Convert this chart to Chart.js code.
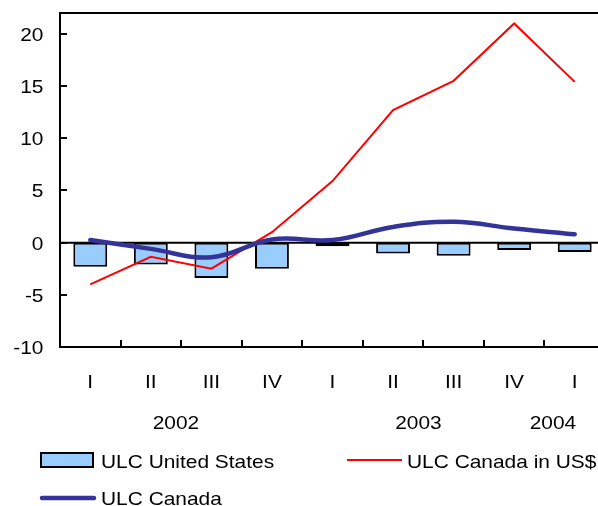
<!DOCTYPE html>
<html>
<head>
<meta charset="utf-8">
<script src="https://cdn.jsdelivr.net/npm/chart.js@4"></script>
<style>
  html, body { margin: 0; padding: 0; background: #fff; overflow: hidden; }
  canvas { display: block; }
</style>
</head>
<body>
<canvas id="ulcChart" width="610" height="506"></canvas>
<script>
// quarters 2002 I .. 2004 I
const quarters = ['I', 'II', 'III', 'IV', 'I', 'II', 'III', 'IV', 'I'];
const years = ['2002', '2003', '2004'];
const ulcUS = [-2.3, -2.1, -3.4, -2.5, -0.35, -1.05, -1.25, -0.7, -0.9];
const ulcCanadaUSD = [-4.0, -1.35, -2.5, 1.0, 5.9, 12.7, 15.5, 21.0, 15.4];
const ulcCanada = [0.25, -0.6, -1.4, 0.3, 0.25, 1.5, 2.0, 1.35, 0.8];
const yTicks = [-10, -5, 0, 5, 10, 15, 20];

const FONT = '18.5px "Liberation Sans", Arial, sans-serif';
const yearSlots = [1.415, 5.42, 7.64]; // where the year labels sit (category index)

// text in the original is a bit wider than plain Arial
function wideText(ctx, txt, x, y, align) {
  ctx.save();
  ctx.translate(x, y);
  ctx.scale(1.13, 1);
  ctx.textAlign = align;
  ctx.textBaseline = 'alphabetic';
  ctx.fillText(txt, 0, 0);
  ctx.restore();
}

const extras = {
  id: 'extras',
  beforeDatasetsDraw(chart) {
    const ctx = chart.ctx;
    const a = chart.chartArea;
    const y0 = chart.scales.y.getPixelForValue(0);
    ctx.save();
    ctx.strokeStyle = '#000';
    ctx.lineWidth = 2;
    ctx.beginPath();
    ctx.moveTo(a.left, y0);
    ctx.lineTo(a.right, y0);
    ctx.stroke();
    ctx.restore();
  },
  afterDraw(chart) {
    const ctx = chart.ctx;
    const a = chart.chartArea;
    const x = chart.scales.x;
    const y = chart.scales.y;
    ctx.save();
    ctx.strokeStyle = '#000';
    ctx.lineWidth = 2;
    // frame top / right
    ctx.beginPath();
    ctx.moveTo(a.left, a.top);
    ctx.lineTo(a.right, a.top);
    ctx.lineTo(a.right, a.bottom);
    ctx.stroke();
    // inward ticks
    ctx.beginPath();
    yTicks.forEach(v => {
      const py = Math.round(y.getPixelForValue(v));
      ctx.moveTo(a.left, py);
      ctx.lineTo(a.left + 7, py);
    });
    for (let i = 0; i <= quarters.length; i++) {
      const px = Math.round(x.getPixelForValue(i - 0.5));
      ctx.moveTo(px, a.bottom);
      ctx.lineTo(px, a.bottom - 7);
    }
    ctx.stroke();

    ctx.fillStyle = '#000';
    ctx.font = FONT;
    // y labels
    yTicks.forEach(v => {
      wideText(ctx, String(v), 43.5, y.getPixelForValue(v) + 7, 'right');
    });
    // quarter labels
    quarters.forEach((q, i) => {
      wideText(ctx, q, x.getPixelForValue(i), 387.5, 'center');
    });
    // year labels
    years.forEach((yr, i) => {
      wideText(ctx, yr, x.getPixelForValue(yearSlots[i]), 428.5, 'center');
    });

    // legend
    const ds = chart.data.datasets;
    ctx.fillStyle = ds[0].backgroundColor;
    ctx.fillRect(41, 453, 52, 14);
    ctx.strokeStyle = '#000';
    ctx.lineWidth = 2;
    ctx.strokeRect(41, 453, 52, 14);
    ctx.fillStyle = '#000';
    wideText(ctx, ds[0].label, 101, 467.5, 'left');

    ctx.strokeStyle = ds[1].borderColor;
    ctx.lineWidth = 2;
    ctx.beginPath();
    ctx.moveTo(347, 460);
    ctx.lineTo(402, 460);
    ctx.stroke();
    wideText(ctx, ds[1].label, 407, 467.5, 'left');

    ctx.strokeStyle = ds[2].borderColor;
    ctx.lineWidth = 4.5;
    ctx.lineCap = 'round';
    ctx.beginPath();
    ctx.moveTo(42, 498);
    ctx.lineTo(94, 498);
    ctx.stroke();
    wideText(ctx, ds[2].label, 101, 505, 'left');
    ctx.restore();
  }
};

new Chart(document.getElementById('ulcChart').getContext('2d'), {
  type: 'bar',
  data: {
    labels: quarters,
    datasets: [{
      type: 'bar',
      label: 'ULC United States',
      data: ulcUS,
      backgroundColor: '#99ccff',
      borderColor: '#000',
      borderWidth: 2,
      borderSkipped: false,
      categoryPercentage: 1,
      barPercentage: 0.56,
      order: 3
    }, {
      type: 'line',
      label: 'ULC Canada in US$',
      data: ulcCanadaUSD,
      borderColor: '#ff0000',
      borderWidth: 2,
      pointRadius: 0,
      tension: 0,
      order: 2
    }, {
      type: 'line',
      label: 'ULC Canada',
      data: ulcCanada,
      borderColor: '#333399',
      borderWidth: 4.5,
      pointRadius: 0,
      tension: 0.4,
      borderCapStyle: 'round',
      order: 1
    }]
  },
  options: {
    responsive: false,
    animation: false,
    layout: { padding: { top: 13, right: 5, left: 0, bottom: 0 } },
    plugins: { legend: { display: false }, tooltip: { enabled: false } },
    scales: {
      x: {
        offset: true,
        grid: { display: false, drawTicks: false },
        border: { display: true, color: '#000', width: 2 },
        ticks: { display: false },
        afterFit(scale) { scale.height = 159; }
      },
      y: {
        min: -10,
        max: 22,
        grid: { display: false, drawTicks: false },
        border: { display: true, color: '#000', width: 2 },
        ticks: { display: false },
        afterBuildTicks(scale) { scale.ticks = yTicks.map(v => ({ value: v })); },
        afterFit(scale) { scale.width = 60; }
      }
    }
  },
  plugins: [extras]
});
</script>
</body>
</html>
